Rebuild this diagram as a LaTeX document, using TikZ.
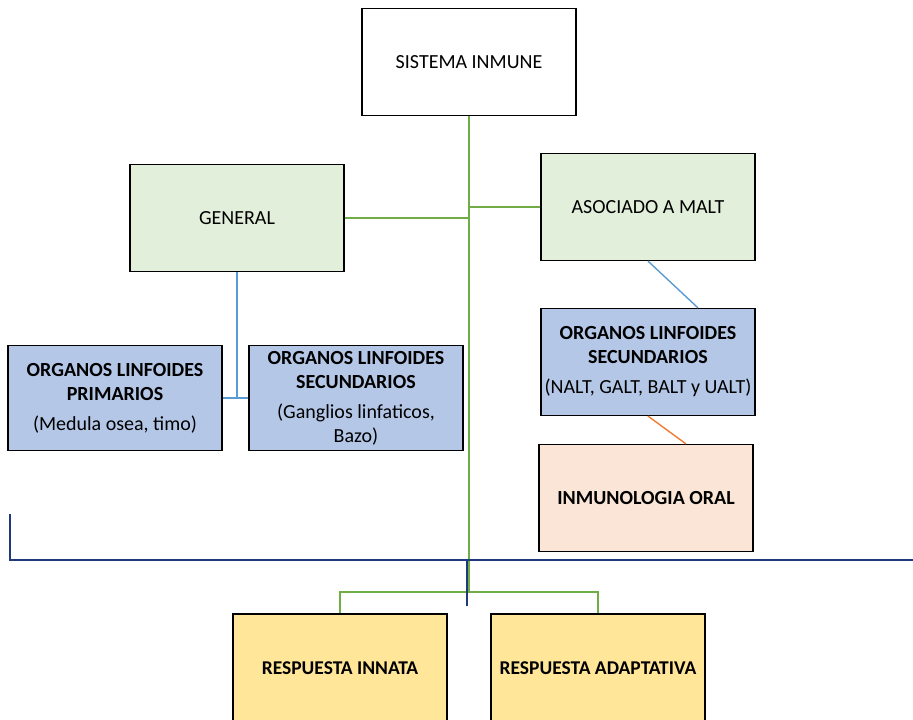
\documentclass[tikz,border=0pt]{standalone}
\usepackage{fontspec}
\setmainfont{Carlito}
\usepackage{tikz}
\usetikzlibrary{positioning,calc}
\definecolor{hojaverde}{HTML}{E2EFDA}
\definecolor{celeste}{HTML}{B4C7E7}
\definecolor{durazno}{HTML}{FBE5D6}
\definecolor{amarillo}{HTML}{FFE699}
\definecolor{lverde}{HTML}{70AD47}
\definecolor{lazul}{HTML}{5B9BD5}
\definecolor{lnaranja}{HTML}{ED7D31}
\definecolor{marino}{HTML}{1F3A7A}

\begin{document}
\begin{tikzpicture}[x=1pt, y=-1pt,
  caja/.style={rectangle, draw=black, fill=#1, line width=1.2pt,
               minimum width=214pt, minimum height=107pt, align=center,
               font=\fontsize{20}{24}\selectfont},
  organo/.style={caja=celeste, minimum height=105pt},
  resp/.style={caja=amarillo, minimum height=108pt,
               font=\fontsize{19.5}{24}\selectfont\bfseries},
  verde/.style={draw=lverde, line width=2pt},
  azul/.style={draw=lazul, line width=1.4pt},
  naranja/.style={draw=lnaranja, line width=1.4pt},
  marina/.style={draw=marino, line width=1.6pt},
]
\useasboundingbox (0,0) rectangle (913,720);

\node[caja=white] (sis) at (469, 62) {SISTEMA INMUNE};

\node[caja=hojaverde] (gen)  at (237, 218) {GENERAL};
\node[caja=hojaverde] (malt) at (648, 207) {ASOCIADO A MALT};

\node[organo] (prim) at (115, 398)
    {\textbf{ORGANOS LINFOIDES}\\ \textbf{PRIMARIOS}\\[6pt] (Medula osea, timo)};
\node[organo] (sec)  at (356, 398)
    {\textbf{ORGANOS LINFOIDES}\\ \textbf{SECUNDARIOS}\\[6pt] (Ganglios linfaticos,\\ Bazo)};
\node[caja=celeste] (secm) at (648, 362)
    {\textbf{ORGANOS LINFOIDES}\\ \textbf{SECUNDARIOS}\\[6pt] (NALT, GALT, BALT y UALT)};

\node[caja=durazno, font=\fontsize{20}{24}\selectfont\bfseries] (oral) at (646, 498)
    {INMUNOLOGIA ORAL};

\node[resp] (inn)  at (340, 668) {RESPUESTA INNATA};
\node[resp] (adap) at (598, 668) {RESPUESTA ADAPTATIVA};

% tronco principal
\coordinate (split) at (469, 592);
\draw[verde] (sis.south) -- (split);
\draw[verde] (gen.east) -- (gen.east -| sis.south);
\draw[verde] (malt.west) -- (malt.west -| sis.south);
\draw[verde] (inn.north) |- (split) -| (adap.north);

% ramas
\draw[azul] (gen.south) -- (gen.south |- prim.east);
\draw[azul] (prim.east) -- (sec.west);
\draw[azul] (malt.south) -- ([xshift=50pt]secm.north);
\draw[naranja] (secm.south) -- ([xshift=40pt]oral.north);

% linea de corte
\coordinate (ci) at (10, 514);
\coordinate (cd) at (913, 560);
\coordinate (ca) at (467, 560);
\coordinate (cb) at (467, 606);
\draw[marina] (ci) |- (cd);
\draw[marina] (ca) -- (cb);
\end{tikzpicture}
\end{document}
